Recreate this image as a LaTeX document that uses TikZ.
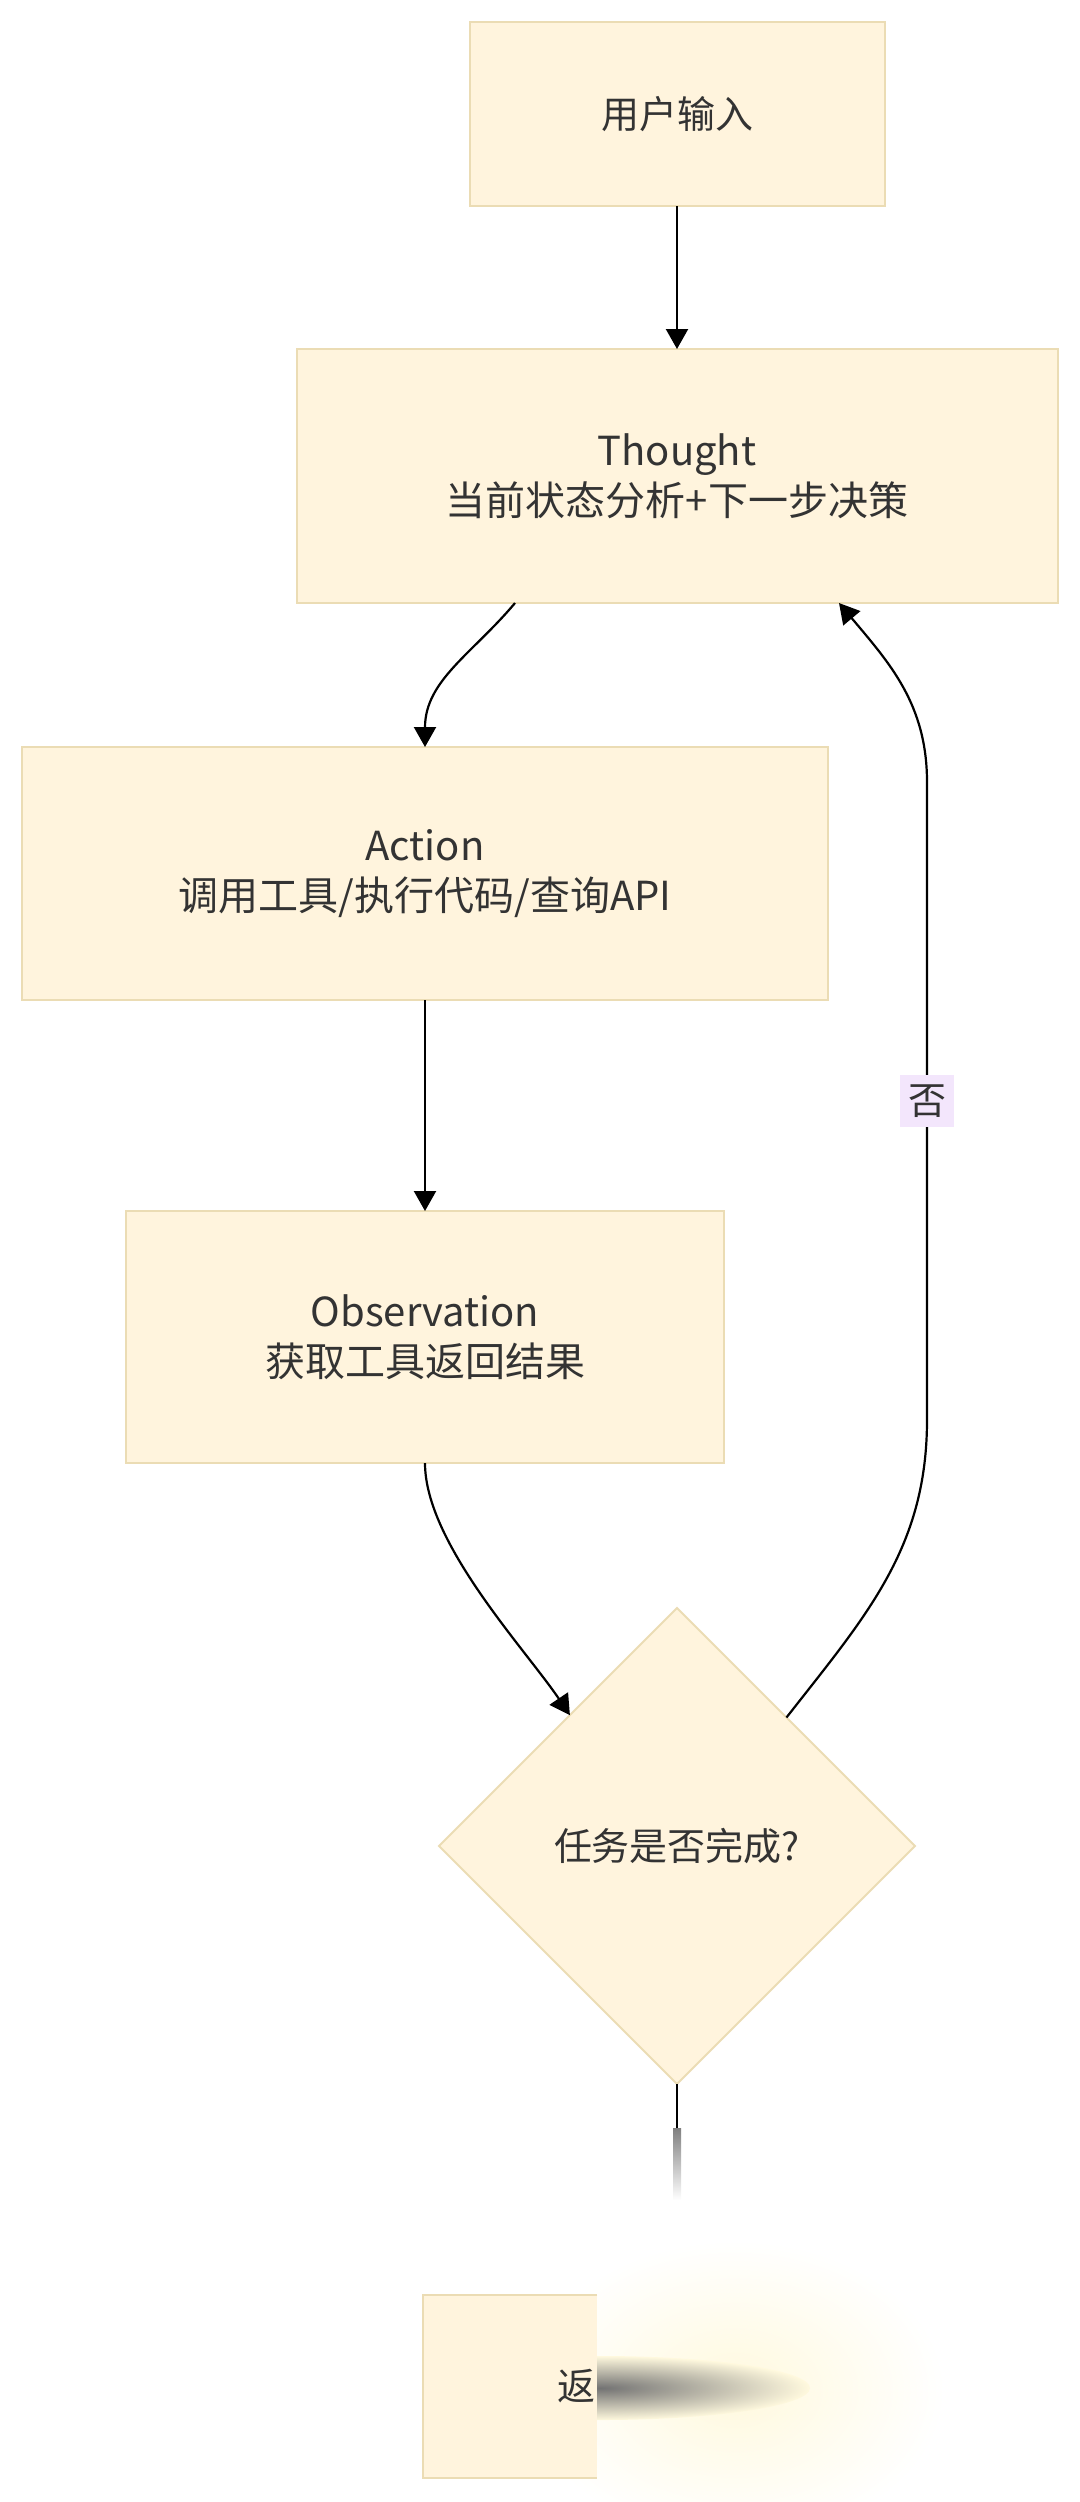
\documentclass[tikz,border=0pt]{standalone}
\usepackage{fontspec}
\setmainfont{Noto Sans CJK SC}
\usetikzlibrary{positioning,shapes.geometric,arrows.meta,calc}

\definecolor{boxfill}{HTML}{FFF4DD}
\definecolor{boxline}{HTML}{EBDCB4}
\definecolor{tagfill}{HTML}{F3E6FC}
\definecolor{ink}{HTML}{333333}
\definecolor{glow}{HTML}{FFF9DE}

\tikzset{
  box/.style={rectangle, draw=boxline, fill=boxfill, line width=1pt, inner sep=0pt, outer sep=0pt,
    align=center, text=ink, font=\fontsize{20}{25}\selectfont},
  decide/.style={diamond, draw=boxline, fill=boxfill, line width=1pt, inner sep=0pt, outer sep=0pt, aspect=1,
    minimum width=238pt, minimum height=238pt, text=ink, font=\fontsize{19}{25}\selectfont},
  flow/.style={-{Triangle[length=10pt,width=11pt]}, line width=1.1pt, black},
  tag/.style={fill=tagfill, inner xsep=4pt, inner ysep=5pt, text=ink, font=\fontsize{19}{25}\selectfont},
}

\begin{document}
\begin{tikzpicture}[x=0.5pt,y=0.5pt]
\useasboundingbox (0,0) rectangle (1080,-2502);

\node [box, minimum width=207.5pt, minimum height=92pt, font=\fontsize{19}{25}\selectfont] (input) at (677,-114) {用户输入};
\node [box, minimum width=380.5pt, minimum height=127pt] (thought) [below=71.5pt of input] {Thought\\当前状态分析+下一步决策};
\node [box, minimum width=403pt, minimum height=126.5pt] (action) [below=72pt of thought, xshift=-126pt] {Action\\调用工具/执行代码/查询API};
\node [box, minimum width=299pt, minimum height=126pt] (obs) [below=105.5pt of action] {Observation\\获取工具返回结果};
\node [decide] (check) [below=72.5pt of obs, xshift=126pt] {任务是否完成?};

% washed-out end of the picture
\shade [inner color=glow, outer color=white] (735,-2390) ellipse [x radius=210, y radius=150];
\node [box, draw=none, minimum width=87pt, minimum height=91.5pt, text width=85pt, inner xsep=1pt, align=right, font=\fontsize{19}{25}\selectfont] (ret) [below=105.5pt of check, xshift=-83.5pt] {返};
\draw [boxline, line width=1pt] (ret.north east) -- (ret.north west) -- (ret.south west) -- (ret.south east);
\begin{scope}
  \clip (597,-2300) rectangle (1000,-2480);
  \shade [inner color=black!55, outer color=glow] (600,-2388) ellipse [x radius=210, y radius=32];
\end{scope}

\coordinate (fadeA) at (677,-2128);
\coordinate (loopLow) at (927,-1420);
\coordinate (loopHigh) at (927,-782);

\path [flow]
(input)  edge (thought)
(action) edge (obs);
\draw [flow] ([xshift=-81pt]thought.south) to [out=-130,in=90] (action.north);
\draw [flow] (obs.south) to [out=-90,in=124,looseness=0.7] ($(check.north)!0.45!(check.west)$);
\draw [flow] ($(check.north)!0.46!(check.east)$) to [out=52,in=-90] (loopLow)
  -- node [tag] {否} (loopHigh) to [out=90,in=-50] ([xshift=81pt]thought.south);
\draw [line width=1.1pt] (check.south) -- (fadeA);
\shade [top color=black!50, bottom color=white] (673,-2128) rectangle (681,-2200); % fading stub
\end{tikzpicture}
\end{document}
